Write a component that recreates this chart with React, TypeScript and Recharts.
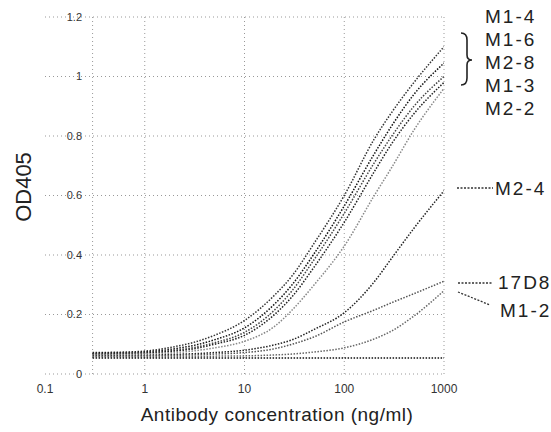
import {CartesianGrid, Line, LineChart, ReferenceLine, XAxis, YAxis} from 'recharts';

// antibody concentration (ng/ml), log axis
const concentrations = [0.3, 0.5, 1, 2, 3, 5, 10, 20, 30, 50, 100, 200, 300, 500, 1000];

// OD405 per clone
const m14 = [0.072, 0.073, 0.077, 0.092, 0.105, 0.13, 0.18, 0.265, 0.33, 0.44, 0.6, 0.79, 0.88, 0.98, 1.1];
const m16 = [0.07, 0.071, 0.074, 0.085, 0.095, 0.115, 0.155, 0.235, 0.3, 0.405, 0.565, 0.74, 0.835, 0.94, 1.045];
const m28 = [0.068, 0.069, 0.072, 0.08, 0.088, 0.105, 0.14, 0.215, 0.28, 0.385, 0.54, 0.71, 0.8, 0.9, 1.0];
const m13 = [0.066, 0.067, 0.07, 0.077, 0.084, 0.1, 0.13, 0.2, 0.26, 0.36, 0.51, 0.68, 0.775, 0.875, 0.98];
const m22 = [0.064, 0.065, 0.067, 0.072, 0.077, 0.088, 0.11, 0.16, 0.215, 0.3, 0.43, 0.6, 0.695, 0.82, 0.96];
const m24 = [0.062, 0.062, 0.063, 0.066, 0.068, 0.072, 0.08, 0.098, 0.115, 0.15, 0.206, 0.31, 0.39, 0.49, 0.616];
const c17d8 = [0.06, 0.06, 0.061, 0.063, 0.064, 0.067, 0.072, 0.085, 0.1, 0.125, 0.175, 0.215, 0.24, 0.27, 0.312];
const m12 = [0.058, 0.058, 0.058, 0.059, 0.059, 0.06, 0.061, 0.064, 0.067, 0.074, 0.088, 0.118, 0.145, 0.195, 0.28];
const control = [0.054, 0.054, 0.054, 0.054, 0.054, 0.054, 0.054, 0.054, 0.054, 0.054, 0.054, 0.054, 0.054, 0.054, 0.054];

const xTicks = [0.1, 1, 10, 100, 1000];
const xTickLabels = ['0.1', '1', '10', '100', '1000'];
const yTicks = [0, 0.2, 0.4, 0.6, 0.8, 1, 1.2];
const yTickLabels = ['0', '0.2', '0.4', '0.6', '0.8', '1', '1.2'];
const xGridLines = [0.3, 1, 10, 100, 1000];

const topLabels = ['M1-4', 'M1-6', 'M2-8', 'M1-3', 'M2-2'];

const series = [
  {key: 'm14', name: 'M1-4', values: m14, color: '#333'},
  {key: 'm16', name: 'M1-6', values: m16, color: '#111'},
  {key: 'm28', name: 'M2-8', values: m28, color: '#444'},
  {key: 'm13', name: 'M1-3', values: m13, color: '#222'},
  {key: 'm22', name: 'M2-2', values: m22, color: '#888'},
  {key: 'm24', name: 'M2-4', values: m24, color: '#222'},
  {key: 'c17d8', name: '17D8', values: c17d8, color: '#555'},
  {key: 'm12', name: 'M1-2', values: m12, color: '#666'},
  {key: 'control', name: 'control', values: control, color: '#111'},
];

const rows = concentrations.map((c, i) => {
  const row: Record<string, number> = {c};
  series.forEach(s => { row[s.key] = s.values[i]; });
  return row;
});

const FONT = '"Liberation Sans", Arial, sans-serif';

export default function App() {
  return (
    <div style={{position: 'absolute', left: 0, top: 0, width: 551, height: 432, background: '#fff', fontFamily: FONT}}>
      <LineChart width={551} height={432} data={rows} margin={{top: 17, right: 107, bottom: 28, left: 44}}>
        <CartesianGrid vertical={false} stroke="#999" strokeDasharray="1 3" />
        <XAxis
          dataKey="c"
          type="number"
          scale="log"
          domain={[0.1, 1000]}
          ticks={xTicks}
          interval={0}
          allowDataOverflow
          height={30}
          axisLine={false}
          tickLine={false}
          tick={(p: any) => (
            <text x={p.x} y={p.y + 11} textAnchor="middle" fontSize={12} fill="#333" fontFamily={FONT}>
              {xTickLabels[xTicks.indexOf(p.payload.value)]}
            </text>
          )}
        />
        <YAxis
          type="number"
          domain={[0, 1.2]}
          ticks={yTicks}
          interval={0}
          width={1}
          axisLine={false}
          tickLine={false}
          tick={(p: any) => (
            <text x={82} y={p.y} dy="0.35em" textAnchor="end" fontSize={11} fill="#333" fontFamily={FONT}>
              {yTickLabels[yTicks.indexOf(p.payload.value)]}
            </text>
          )}
        />
        {xGridLines.map(v => (
          <ReferenceLine key={v} x={v} stroke="#999" strokeDasharray="1 3" />
        ))}
        {series.map(s => (
          <Line
            key={s.key}
            dataKey={s.key}
            name={s.name}
            type="monotone"
            stroke={s.color}
            strokeWidth={1.5}
            strokeDasharray="1.5 1.5"
            dot={false}
            isAnimationActive={false}
          />
        ))}
      </LineChart>
      <svg width={551} height={432} style={{position: 'absolute', left: 0, top: 0, pointerEvents: 'none'}} fontFamily={FONT}>
        <text transform="translate(23,187) rotate(-90)" textAnchor="middle" dy="0.35em" fontSize={22} fill="#222">OD405</text>
        <text x={277} y={421} textAnchor="middle" fontSize={19} letterSpacing={0.5} fill="#222">
          Antibody concentration (ng/ml)
        </text>
        {topLabels.map((t, i) => (
          <text key={t} x={485} y={23 + i * 23} fontSize={19} letterSpacing={2} fill="#222">{t}</text>
        ))}
        <path d="M461,33 Q467,33 467,40 L467,55 Q467,60 472,60 Q467,60 467,65 L467,78 Q467,85 461,85" fill="none" stroke="#222" strokeWidth={1.6} />
        <line x1={457} y1={188} x2={493} y2={188} stroke="#333" strokeWidth={1.3} strokeDasharray="2 1.5" />
        <text x={495} y={195} fontSize={19} letterSpacing={2} fill="#222">M2-4</text>
        <line x1={458} y1={283} x2={492} y2={283} stroke="#333" strokeWidth={1.3} strokeDasharray="2 1.5" />
        <text x={498} y={289} fontSize={19} letterSpacing={2} fill="#222">17D8</text>
        <line x1={458} y1={292} x2={490} y2={305} stroke="#333" strokeWidth={1.3} strokeDasharray="2 1.5" />
        <text x={500} y={317} fontSize={19} letterSpacing={2} fill="#222">M1-2</text>
      </svg>
    </div>
  );
}
